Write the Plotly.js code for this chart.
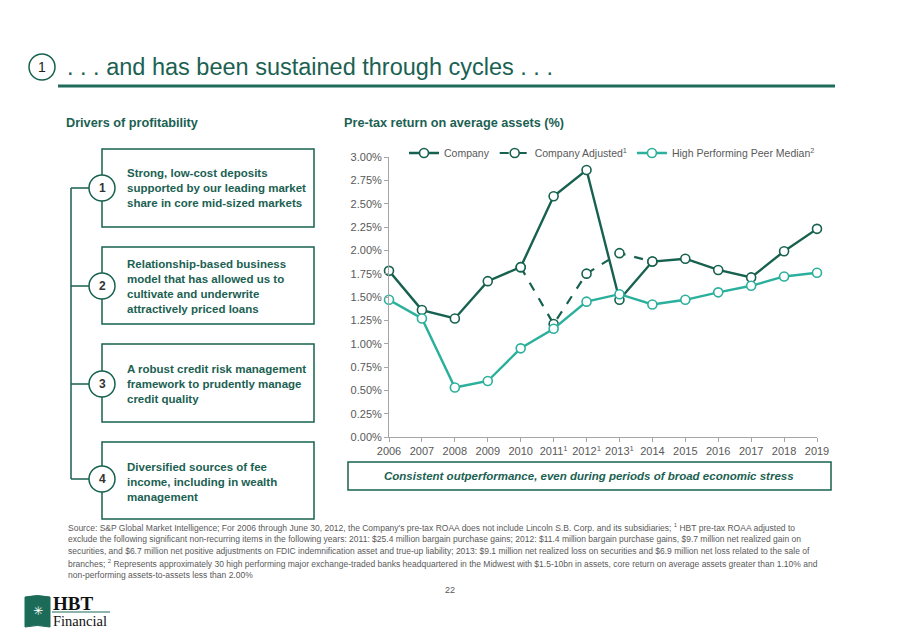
<!DOCTYPE html>
<html>
<head>
<meta charset="utf-8">
<script src="https://cdn.plot.ly/plotly-3.0.1.min.js"></script>
<style>
html,body{margin:0;padding:0;background:#fff;}
#chart{width:900px;height:636px;}
</style>
</head>
<body>
<div id="chart"></div>
<script>
// ---- data ----
const years = ['2006','2007','2008','2009','2010','2011<sup>1</sup>','2012<sup>1</sup>','2013<sup>1</sup>','2014','2015','2016','2017','2018','2019'];
const companyVals = [1.78,1.36,1.27,1.67,1.82,2.58,2.86,1.47,1.88,1.91,1.79,1.71,1.99,2.23];
const adjustedYears = ['2010','2011<sup>1</sup>','2012<sup>1</sup>','2013<sup>1</sup>','2014'];
const adjustedVals = [1.82,1.21,1.75,1.97,1.88];
const peerVals = [1.47,1.27,0.53,0.60,0.95,1.16,1.45,1.53,1.42,1.47,1.55,1.62,1.72,1.76];
const yTicks = [0,0.25,0.5,0.75,1,1.25,1.5,1.75,2,2.25,2.5,2.75,3];
const yTickLabels = ['0.00%','0.25%','0.50%','0.75%','1.00%','1.25%','1.50%','1.75%','2.00%','2.25%','2.50%','2.75%','3.00%'];
const seriesNames = ['Company','Company Adjusted<sup>1</sup>','High Performing Peer Median<sup>2</sup>'];
const drivers = [
  'Strong, low-cost deposits<br>supported by our leading market<br>share in core mid-sized markets',
  'Relationship-based business<br>model that has allowed us to<br>cultivate and underwrite<br>attractively priced loans',
  'A robust credit risk management<br>framework to prudently manage<br>credit quality',
  'Diversified sources of fee<br>income, including in wealth<br>management'
];
const footnote = [
  "Source: S&P Global Market Intelligence; For 2006 through June 30, 2012, the Company's pre-tax ROAA does not include Lincoln S.B. Corp. and its subsidiaries; <sup>1</sup> HBT pre-tax ROAA adjusted to",
  "exclude the following significant non-recurring items in the following years: 2011: $25.4 million bargain purchase gains; 2012: $11.4 million bargain purchase gains, $9.7 million net realized gain on",
  "securities, and $6.7 million net positive adjustments on FDIC indemnification asset and true-up liability; 2013: $9.1 million net realized loss on securities and $6.9 million net loss related to the sale of",
  "branches; <sup>2</sup> Represents approximately 30 high performing major exchange-traded banks headquartered in the Midwest with $1.5-10bn in assets, core return on average assets greater than 1.10% and",
  "non-performing assets-to-assets less than 2.00%"
];

// ---- style ----
const DARK = '#17614f';
const TEAL = '#2bb09c';
const HEAD = '#1b6152';
const GREY = '#595959';
const FONT = 'Liberation Sans, Arial, sans-serif';

// plot area in pixels
const L = 389, R = 817, T = 157, B = 437;
const W = R - L, H = B - T;
const X = p => (p - L) / W;
const Y = p => (B - p) / H;

const shapes = [];
const annotations = [];

// header
shapes.push({type:'circle', xref:'paper', yref:'paper', x0:X(29), x1:X(55), y0:Y(54), y1:Y(80), line:{color:DARK, width:1.5}});
annotations.push({xref:'paper', yref:'paper', x:X(42), y:Y(67), text:'1', showarrow:false, xanchor:'center', yanchor:'middle', font:{family:FONT, size:14, color:'#222'}});
annotations.push({xref:'paper', yref:'paper', x:X(65), y:Y(67), text:'. . . and has been sustained through cycles . . .', showarrow:false, xanchor:'left', yanchor:'middle', font:{family:FONT, size:23.5, color:HEAD}});
shapes.push({type:'line', xref:'paper', yref:'paper', x0:X(58), x1:X(835), y0:Y(86), y1:Y(86), line:{color:'#1f6b5c', width:3}});

// subheadings
annotations.push({xref:'paper', yref:'paper', x:X(64), y:Y(123), text:'<b>Drivers of profitability</b>', showarrow:false, xanchor:'left', yanchor:'middle', font:{family:FONT, size:12.7, color:HEAD}});
annotations.push({xref:'paper', yref:'paper', x:X(342), y:Y(123), text:'<b>Pre-tax return on average assets (%)</b>', showarrow:false, xanchor:'left', yanchor:'middle', font:{family:FONT, size:12.7, color:HEAD}});

// driver boxes
const boxTops = [149, 247, 344, 442];
const boxBots = [227, 324, 422, 519];
const circY = [188, 286, 384, 479];
const textY = [188, 286, 384, 482];
shapes.push({type:'line', xref:'paper', yref:'paper', x0:X(71), x1:X(71), y0:Y(circY[0]), y1:Y(circY[3]), line:{color:DARK, width:1.5}});
for (let i = 0; i < 4; i++) {
  shapes.push({type:'rect', xref:'paper', yref:'paper', x0:X(102), x1:X(314), y0:Y(boxBots[i]), y1:Y(boxTops[i]), line:{color:DARK, width:1.5}, fillcolor:'rgba(0,0,0,0)'});
  shapes.push({type:'line', xref:'paper', yref:'paper', x0:X(71), x1:X(89), y0:Y(circY[i]), y1:Y(circY[i]), line:{color:DARK, width:1.5}});
  shapes.push({type:'circle', xref:'paper', yref:'paper', x0:X(89), x1:X(115), y0:Y(circY[i]+13), y1:Y(circY[i]-13), line:{color:DARK, width:1.5}, fillcolor:'#ffffff'});
  annotations.push({xref:'paper', yref:'paper', x:X(102), y:Y(circY[i]), text:'<b>'+(i+1)+'</b>', showarrow:false, xanchor:'center', yanchor:'middle', font:{family:FONT, size:12, color:'#333'}});
  annotations.push({xref:'paper', yref:'paper', x:X(125), y:Y(textY[i]), text:'<b>'+drivers[i]+'</b>', showarrow:false, xanchor:'left', yanchor:'middle', align:'left', font:{family:FONT, size:11.5, color:HEAD}});
}

// callout under chart
shapes.push({type:'rect', xref:'paper', yref:'paper', x0:X(348), x1:X(831), y0:Y(490), y1:Y(462), line:{color:DARK, width:1.5}});
annotations.push({xref:'paper', yref:'paper', x:X(589), y:Y(476), text:'<b><i>Consistent outperformance, even during periods of broad economic stress</i></b>', showarrow:false, xanchor:'center', yanchor:'middle', font:{family:FONT, size:11.5, color:HEAD}});

// footnote
footnote.forEach((line, i) => {
  annotations.push({xref:'paper', yref:'paper', x:X(66), y:Y(527 + i*12), text:line, showarrow:false, xanchor:'left', yanchor:'middle', align:'left', font:{family:'Liberation Sans Narrow, Arial Narrow, Liberation Sans, sans-serif', size:8.5, color:GREY}});
});
annotations.push({xref:'paper', yref:'paper', x:X(450), y:Y(590), text:'22', showarrow:false, xanchor:'center', yanchor:'middle', font:{family:FONT, size:9, color:GREY}});

// logo
shapes.push({type:'path', xref:'paper', yref:'paper',
  path:'M '+X(25)+','+Y(597)+' Q '+X(37)+','+Y(594)+' '+X(50)+','+Y(597)+' L '+X(50)+','+Y(627)+' Q '+X(37)+','+Y(624)+' '+X(25)+','+Y(627)+' Z',
  fillcolor:'#1c6b58', line:{color:'#1c6b58', width:1}});
annotations.push({xref:'paper', yref:'paper', x:X(37.5), y:Y(611), text:'✳', showarrow:false, xanchor:'center', yanchor:'middle', font:{family:'DejaVu Sans', size:12, color:'#ffffff'}});
annotations.push({xref:'paper', yref:'paper', x:X(51), y:Y(603), text:'<b>HBT</b>', showarrow:false, xanchor:'left', yanchor:'middle', font:{family:'Liberation Serif, Times New Roman, serif', size:19, color:'#111'}});
shapes.push({type:'line', xref:'paper', yref:'paper', x0:X(52), x1:X(110), y0:Y(612), y1:Y(612), line:{color:'#1c6b58', width:1}});
annotations.push({xref:'paper', yref:'paper', x:X(51), y:Y(621), text:'Financial', showarrow:false, xanchor:'left', yanchor:'middle', font:{family:'Liberation Serif, Times New Roman, serif', size:14.5, color:'#111'}});

const markerOf = c => ({symbol:'circle', size:9, color:'#ffffff', line:{color:c, width:1.6}});

const traces = [
  {x:adjustedYears, y:adjustedVals, name:seriesNames[1], type:'scatter', mode:'lines+markers', legendrank:2,
   line:{color:DARK, width:2.2, dash:'dash'}, marker:markerOf(DARK), cliponaxis:false},
  {x:years, y:companyVals, name:seriesNames[0], type:'scatter', mode:'lines+markers', legendrank:1,
   line:{color:DARK, width:2.4}, marker:markerOf(DARK), cliponaxis:false},
  {x:years, y:peerVals, name:seriesNames[2], type:'scatter', mode:'lines+markers', legendrank:3,
   line:{color:TEAL, width:2.4}, marker:markerOf(TEAL), cliponaxis:false}
];

const layout = {
  width:900, height:636,
  margin:{l:L, r:900-R, t:T, b:636-B, pad:0},
  paper_bgcolor:'#ffffff', plot_bgcolor:'#ffffff',
  font:{family:FONT, size:11, color:GREY},
  showlegend:true,
  legend:{orientation:'h', x:X(404), y:Y(153), xanchor:'left', yanchor:'middle',
          font:{family:FONT, size:10.5, color:GREY}, bgcolor:'rgba(0,0,0,0)', itemwidth:30, tracegroupgap:0},
  xaxis:{type:'category', categoryorder:'array', categoryarray:years, range:[0, years.length-1], showgrid:false, zeroline:false,
         showline:true, linecolor:'#a6a6a6', linewidth:1, ticks:'outside', ticklen:4, tickcolor:'#a6a6a6',
         tickfont:{family:FONT, size:11, color:GREY}, fixedrange:true},
  yaxis:{range:[0,3], tickmode:'array', tickvals:yTicks, ticktext:yTickLabels, showgrid:false, zeroline:false,
         showline:true, linecolor:'#a6a6a6', linewidth:1, ticks:'outside', ticklen:4, tickcolor:'#a6a6a6',
         tickfont:{family:FONT, size:11, color:GREY}, fixedrange:true},
  shapes:shapes,
  annotations:annotations
};

Plotly.newPlot('chart', traces, layout, {staticPlot:true, displayModeBar:false});
</script>
</body>
</html>
